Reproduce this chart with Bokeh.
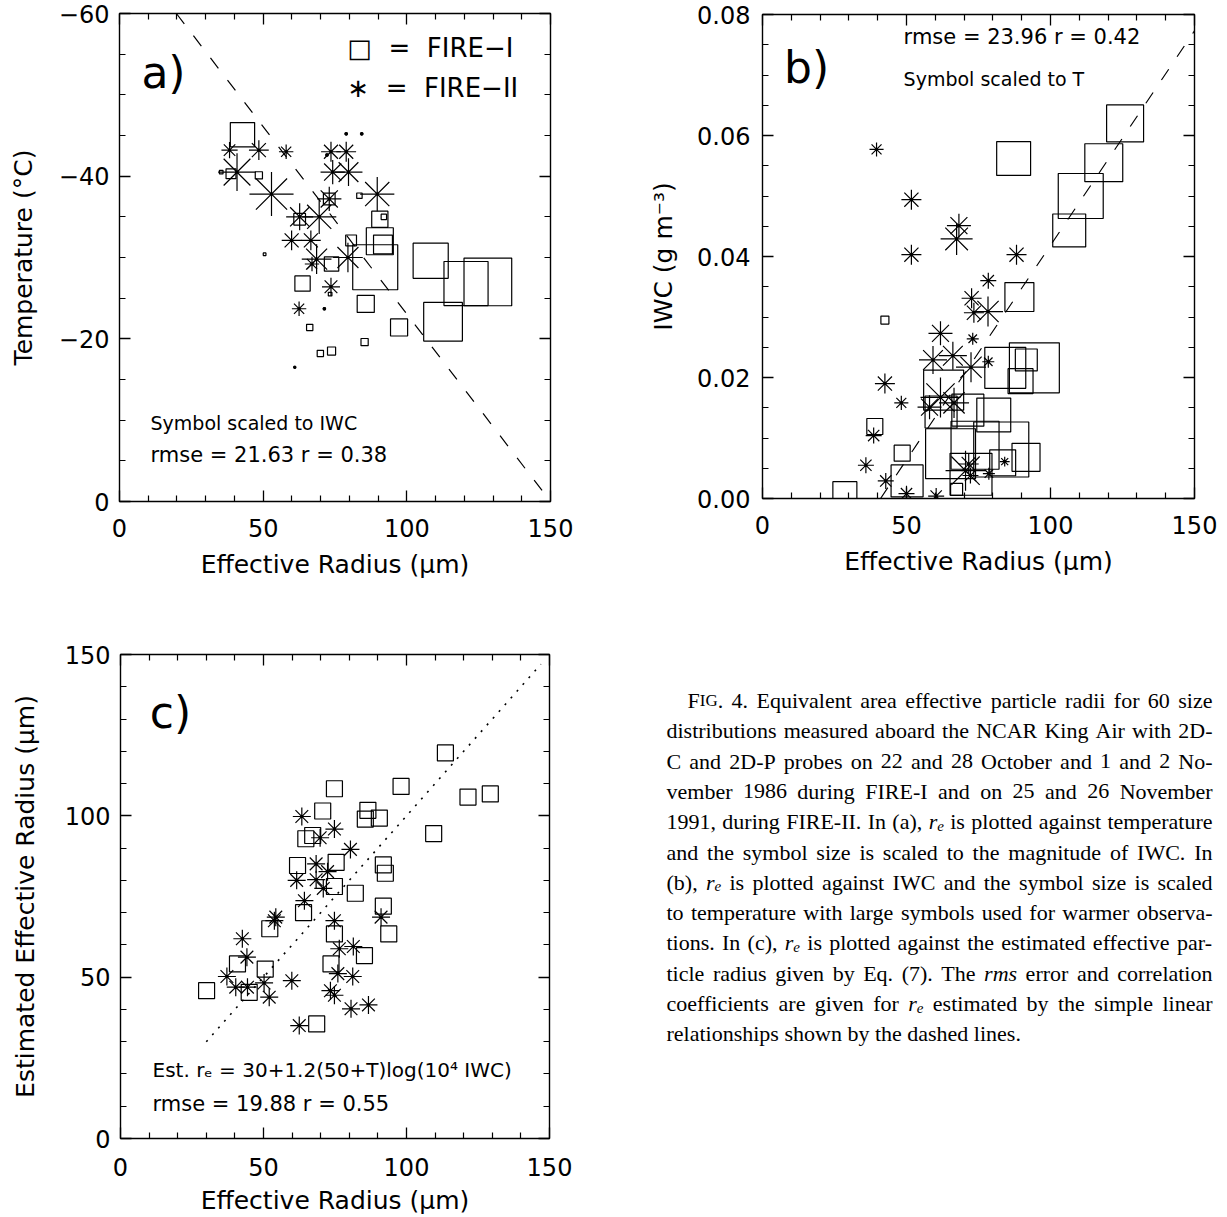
import numpy as np
from bokeh.plotting import figure
from bokeh.layouts import column, row
from bokeh.models import Range1d, LinearAxis, FixedTicker, Label, NumeralTickFormatter
from bokeh.embed import file_html
from bokeh.resources import INLINE
from bokeh.core.properties import value

SANS = "DejaVu Sans"
SERIF = "Liberation Serif"

# ---------------- data ----------------
# (a) effective radius (um) against temperature (C); symbol size follows IWC (g m-3)
a1_re = [42.8, 38.8, 48.5, 73.0, 62.7, 50.5, 63.7, 73.8, 80.6, 73.3, 66.2, 85.3, 69.9, 73.8,
         83.5, 35.4, 90.6, 92.0, 90.6, 91.7, 89.0, 85.7, 97.3, 108.3, 112.6, 120.6, 128.2]
a1_t = [-45.1, -40.3, -40.1, -37.2, -34.7, -30.4, -26.8, -29.2, -32.1, -25.5, -21.4, -19.6, -18.2, -18.5,
        -37.6, -40.5, -34.7, -35.0, -32.0, -31.6, -28.8, -24.3, -21.4, -29.6, -22.1, -26.8, -27.0]
a1_iwc = [0.027, 0.011, 0.008, 0.013, 0.013, 0.003, 0.017, 0.016, 0.012, 0.004, 0.007, 0.008, 0.007, 0.009,
          0.006, 0.004, 0.018, 0.006, 0.030, 0.021, 0.050, 0.019, 0.019, 0.039, 0.043, 0.049, 0.053]

a2_re = [38.3, 48.5, 58.0, 40.9, 52.9, 62.7, 69.5, 59.9, 66.6, 68.6, 67.0, 79.5, 73.6, 62.5, 71.3,
         73.6, 78.9, 74.2, 79.7, 78.9, 84.3, 73.0, 89.7, 61.0, 72.2]
a2_t = [-43.2, -43.2, -43.0, -40.5, -37.8, -35.0, -35.0, -32.1, -32.1, -29.8, -29.2, -30.0, -26.4, -23.7, -23.7,
        -43.0, -43.0, -40.5, -40.5, -45.2, -45.2, -37.2, -37.8, -16.5, -42.6]
a2_iwc = [0.018, 0.022, 0.016, 0.042, 0.049, 0.030, 0.038, 0.022, 0.022, 0.033, 0.016, 0.033, 0.020, 0.016, 0.004,
          0.022, 0.022, 0.027, 0.031, 0.004, 0.004, 0.027, 0.038, 0.003, 0.004]

# (b) effective radius (um) against IWC (g m-3); symbol size follows temperature (C)
b1_re = [125.9, 118.5, 110.5, 106.5, 87.2, 89.2, 42.5, 84.3, 94.4, 89.6, 91.6, 62.9, 62.0, 71.3,
         80.3, 39.0, 65.3, 48.5, 50.2, 28.6, 82.9, 91.5, 83.4, 72.4, 67.4, 73.8]
b1_iwc = [0.0620, 0.0555, 0.0500, 0.0443, 0.0562, 0.0333, 0.0295, 0.0216, 0.0216, 0.0194, 0.0229, 0.0179, 0.0143, 0.0146,
          0.0138, 0.0119, 0.0074, 0.0075, 0.0029, 0.0008, 0.0081, 0.0068, 0.0059, 0.0040, 0.0015, 0.0088]
b1_t = [-27.9, -27.3, -22.9, -30.4, -29.8, -32.9, -46.0, -25.4, -19.8, -35.4, -37.3, -26.0, -31.0, -31.0,
        -29.8, -41.0, -19.8, -41.0, -31.0, -36.0, -16.6, -33.5, -34.8, -24.8, -43.5, -21.0]

b2_re = [39.6, 51.7, 68.2, 67.4, 51.7, 72.6, 73.4, 78.4, 78.3, 88.2, 61.8, 73.0, 66.1, 59.2, 78.4, 72.4,
         42.5, 48.2, 61.8, 58.0, 66.5, 38.6, 35.9, 42.8, 50.0, 60.3, 71.6, 70.5, 72.2, 78.6, 84.1]
b2_iwc = [0.0577, 0.0494, 0.0451, 0.0429, 0.0403, 0.0331, 0.0307, 0.0360, 0.0309, 0.0403, 0.0273, 0.0264, 0.0236,
          0.0229, 0.0226, 0.0217, 0.0190, 0.0158, 0.0167, 0.0151, 0.0158, 0.0104, 0.0055, 0.0029, 0.0008, 0.0004,
          0.0057, 0.0046, 0.0038, 0.0041, 0.0061]
b2_t = [-42.2, -38.5, -36.0, -31.0, -38.5, -38.5, -38.5, -41.0, -32.2, -38.5, -36.0, -43.5, -33.5, -33.5, -43.5, -32.2,
        -38.5, -42.2, -26.0, -36.0, -32.2, -41.0, -41.0, -41.0, -41.0, -41.0, -38.5, -26.0, -41.0, -43.5, -44.8]

# (c) effective radius (um) against the estimated effective radius (um)
c1_re = [74.8, 98.1, 70.7, 86.5, 85.6, 90.5, 67.2, 64.8, 61.9, 75.4, 91.9, 92.6, 74.8, 82.1, 64.0,
         91.9, 52.2, 74.8, 93.8, 40.9, 50.6, 85.3, 73.6, 30.1, 45.0, 68.6, 113.6, 121.5, 129.3, 109.5]
c1_est = [108.4, 109.1, 101.5, 101.7, 99.0, 99.3, 93.9, 92.9, 84.6, 85.6, 84.8, 82.2, 78.1, 76.0, 70.0,
          72.0, 65.0, 63.4, 63.4, 54.1, 52.5, 56.7, 54.1, 45.8, 45.3, 35.5, 119.5, 105.8, 106.8, 94.5]
c2_re = [63.4, 74.8, 69.8, 80.4, 68.4, 72.4, 61.6, 68.4, 70.9, 64.3, 54.3, 53.8, 74.8, 91.1, 42.6, 44.2,
         76.5, 81.4, 37.2, 40.3, 44.4, 50.2, 52.0, 59.9, 76.0, 81.2, 73.4, 74.8, 80.6, 86.7, 62.5]
c2_est = [99.8, 95.9, 93.2, 89.6, 85.1, 82.7, 80.0, 80.2, 77.5, 73.7, 68.6, 67.5, 67.5, 68.6, 61.9, 56.2,
          58.8, 59.5, 50.2, 46.9, 46.9, 48.2, 43.8, 48.9, 51.1, 50.2, 45.8, 44.4, 40.2, 41.4, 35.0]

# linear relationships drawn as dashed / dotted lines
A_FIT_RE0, A_FIT_SLOPE = 150.0, 2.17      # re = 150 + 2.17 T
B_FIT_RE0, B_FIT_SLOPE = 41.0, 1410.0     # re = 41 + 1410 IWC
C_ONE_TO_ONE = [30.0, 147.0]

# symbol scaling
A_PX_PER_IWC = 900.0                      # marker size (px) per g m-3
B_PX_PER_DEG, B_T_ZERO = 1.6, -51.0       # marker size (px) = 1.6 (T + 51)
C_SIZE = 16

# ticks
X_TICKS = [0, 50, 100, 150]
X_MINOR = [v for v in range(0, 151, 10) if v % 50]
A_TICKS = [-60, -40, -20, 0]
A_LABELS = {-60: "\u221260", -40: "\u221240", -20: "\u221220", 0: "0"}
A_MINOR = [v for v in range(-60, 1, 5) if v % 20]
B_TICKS = [0.0, 0.02, 0.04, 0.06, 0.08]
B_MINOR = [round(0.005 * i, 3) for i in range(17) if i % 4]
C_TICKS = [0, 50, 100, 150]
C_MINOR = [v for v in range(0, 151, 10) if v % 50]

CAPTION = [
    "^FIG. 4. Equivalent area effective particle radii for 60 size",
    "distributions measured aboard the NCAR King Air with 2D-",
    "C and 2D-P probes on 22 and 28 October and 1 and 2 No-",
    "vember 1986 during FIRE-I and on 25 and 26 November",
    "1991, during FIRE-II. In (a), r_e is plotted against temperature",
    "and the symbol size is scaled to the magnitude of IWC. In",
    "(b), r_e is plotted against IWC and the symbol size is scaled",
    "to temperature with large symbols used for warmer observa-",
    "tions. In (c), r_e is plotted against the estimated effective par-",
    "ticle radius given by Eq. (7). The ~rms error and correlation",
    "coefficients are given for r_e estimated by the simple linear",
    "relationships shown by the dashed lines.",
]

NB = "\u00a0"


# ---------------- helpers ----------------
def make_panel(width, height, left, right, top, bottom, xr, yr):
    p = figure(width=width, height=height, x_range=xr, y_range=yr,
               output_backend="svg", toolbar_location=None,
               x_axis_location=None, y_axis_location=None,
               min_border_left=left, min_border_right=right,
               min_border_top=top, min_border_bottom=bottom)
    p.frame_align = False
    p.xgrid.visible = False
    p.ygrid.visible = False
    p.outline_line_color = "black"
    p.outline_line_width = 1.4
    p.background_fill_color = "white"
    p.border_fill_color = "white"
    return p


def add_axes(p, xticks, xminor, yticks, yminor, xtitle, ytitle,
             ylabels=None, yformat=None, xstand=17, xtitle_stand=10,
             ystand=10, ytitle_stand=18):
    for loc in ("below", "left", "above", "right"):
        horiz = loc in ("below", "above")
        ax = LinearAxis()
        ax.ticker = FixedTicker(ticks=xticks if horiz else yticks,
                                minor_ticks=xminor if horiz else yminor)
        ax.axis_line_color = None
        ax.major_tick_in, ax.major_tick_out = 11, 0
        ax.minor_tick_in, ax.minor_tick_out = 6, 0
        ax.major_tick_line_color = "black"
        ax.minor_tick_line_color = "black"
        ax.major_tick_line_width = 1.3
        ax.minor_tick_line_width = 1.2
        if loc in ("below", "left"):
            ax.major_label_text_font = SANS
            ax.major_label_text_font_size = "24px"
            ax.major_label_text_color = "black"
            ax.axis_label_text_font = SANS
            ax.axis_label_text_font_size = "25px"
            ax.axis_label_text_font_style = "normal"
            ax.axis_label_text_color = "black"
            if horiz:
                ax.major_label_standoff = xstand
                ax.axis_label = xtitle
                ax.axis_label_standoff = xtitle_stand
            else:
                ax.major_label_standoff = ystand
                ax.axis_label = ytitle
                ax.axis_label_standoff = ytitle_stand
                if ylabels:
                    ax.major_label_overrides = ylabels
                if yformat:
                    ax.formatter = NumeralTickFormatter(format=yformat)
        else:
            # tick marks only on the opposite sides
            ax.major_label_text_color = None
            ax.major_label_text_font_size = "1px"
            ax.major_label_standoff = 0
        p.add_layout(ax, loc)


def squares(p, x, y, size):
    p.scatter(x=x, y=y, size=size, marker="square", fill_color=None,
              line_color="black", line_width=1.2)


def stars(p, x, y, size):
    p.scatter(x=x, y=y, size=size, marker="cross", line_color="black", line_width=1.2)
    p.scatter(x=x, y=y, size=size, marker="x", line_color="black", line_width=1.2)
    p.scatter(x=x, y=y, size=3.5, marker="circle", fill_color="black", line_color=None)


def note(p, x, y, text, size, align="left"):
    p.add_layout(Label(x=x, y=y, text=text, text_font=SANS, text_font_size=size,
                       text_align=align, text_baseline="middle", text_color="black"))


# ---------------- panel (a) ----------------
pa = make_panel(614, 600, 119, 64, 13, 99, Range1d(0, 150), Range1d(0, -60))
add_axes(pa, X_TICKS, X_MINOR, A_TICKS, A_MINOR,
         "Effective Radius (\u03bcm)", "Temperature (\u00b0C)", ylabels=A_LABELS)
t_line = np.array([-60.0, 0.0])
pa.line(x=A_FIT_RE0 + A_FIT_SLOPE * t_line, y=t_line, line_color="black",
        line_width=1.2, line_dash="13 15")
squares(pa, a1_re, a1_t, np.array(a1_iwc) * A_PX_PER_IWC)
stars(pa, a2_re, a2_t, np.array(a2_iwc) * A_PX_PER_IWC)
note(pa, 15.3, -52.8, "a)", "44px", align="center")
note(pa, 79.3, -55.8, f"\u25a1{NB}{NB}={NB}{NB}FIRE\u2212I", "26px")
note(pa, 79.3, -50.8, f"\u2217{NB}{NB}={NB}{NB}FIRE\u2212II", "26px")
note(pa, 10.8, -9.7, "Symbol scaled to IWC", "19px")
note(pa, 10.8, -5.7, "rmse = 21.63 r = 0.38", "21px")

# ---------------- panel (b) ----------------
pb = make_panel(613, 600, 148, 33, 14, 102, Range1d(0, 150), Range1d(0, 0.08))
add_axes(pb, X_TICKS, X_MINOR, B_TICKS, B_MINOR,
         "Effective Radius (\u03bcm)", "IWC (g m\u207b\u00b3)", yformat="0.00",
         ystand=12, ytitle_stand=16)
iwc_line = np.array([0.0, (150.0 - B_FIT_RE0) / B_FIT_SLOPE])
pb.line(x=B_FIT_RE0 + B_FIT_SLOPE * iwc_line, y=iwc_line, line_color="black",
        line_width=1.2, line_dash="13 15")
squares(pb, b1_re, b1_iwc, B_PX_PER_DEG * (np.array(b1_t) - B_T_ZERO))
stars(pb, b2_re, b2_iwc, B_PX_PER_DEG * (np.array(b2_t) - B_T_ZERO))
note(pb, 15.3, 0.0712, "b)", "44px", align="center")
note(pb, 49.0, 0.0762, "rmse = 23.96 r = 0.42", "21px")
note(pb, 49.0, 0.0694, "Symbol scaled to T", "19px")

# ---------------- panel (c) ----------------
pc = make_panel(614, 617, 120, 65, 54, 79, Range1d(0, 150), Range1d(0, 150))
add_axes(pc, X_TICKS, X_MINOR, C_TICKS, C_MINOR,
         "Effective Radius (\u03bcm)", "Estimated Effective Radius (\u03bcm)",
         xstand=19, xtitle_stand=7, ytitle_stand=22)
pc.line(x=C_ONE_TO_ONE, y=C_ONE_TO_ONE, line_color="black", line_width=1.6, line_dash="2 7")
squares(pc, c1_re, c1_est, C_SIZE)
stars(pc, c2_re, c2_est, C_SIZE + 2)
note(pc, 17.5, 132.0, "c)", "44px", align="center")
note(pc, 11.2, 21.1, "Est. r\u2091 = 30+1.2(50+T)log(10\u2074 IWC)", "20px")
note(pc, 11.2, 10.8, "rmse = 19.88 r = 0.55", "21px")

# ---------------- caption ----------------
W_ROMAN = {' ': 250, '(': 333, ')': 333, ',': 250, '-': 333, '.': 250, ':': 278, ';': 278,
           'A': 722, 'B': 667, 'C': 667, 'D': 722, 'E': 611, 'F': 556, 'G': 722, 'H': 722, 'I': 333,
           'J': 389, 'K': 722, 'L': 611, 'M': 889, 'N': 722, 'O': 722, 'P': 556, 'Q': 722, 'R': 667,
           'S': 556, 'T': 611, 'U': 722, 'V': 722, 'W': 944, 'X': 722, 'Y': 722, 'Z': 611,
           'a': 444, 'b': 500, 'c': 444, 'd': 500, 'e': 444, 'f': 333, 'g': 500, 'h': 500, 'i': 278,
           'j': 278, 'k': 500, 'l': 278, 'm': 778, 'n': 500, 'o': 500, 'p': 500, 'q': 500, 'r': 333,
           's': 389, 't': 278, 'u': 500, 'v': 500, 'w': 722, 'x': 500, 'y': 500, 'z': 444}
W_ITALIC = {'r': 389, 'm': 722, 's': 389, 'e': 444}
CAP_STYLE = {"n": (22, "normal", 0), "i": (22, "italic", 0),
             "sc": (17, "normal", 0), "sub": (15, "italic", 4)}
CAP_LEFT, CAP_RIGHT, CAP_INDENT = 666, 1212, 21
CAP_BASE, CAP_PITCH = 700, 30.3


def runs_of(word):
    if word.startswith("^"):
        w = word[1:]
        return [(w[0], "n"), (w[1:-1], "sc"), (w[-1], "n")]
    if word.startswith("r_e"):
        rest = word[3:]
        return [("r", "i"), ("e", "sub")] + ([(rest, "n")] if rest else [])
    if word.startswith("~"):
        return [(word[1:], "i")]
    return [(word, "n")]


def run_width(text, kind):
    size = CAP_STYLE[kind][0]
    table = W_ITALIC if kind in ("i", "sub") else W_ROMAN
    return sum(table.get(ch, W_ROMAN.get(ch, 500)) for ch in text) * size / 1000.0


pd = figure(width=613, height=617, x_range=Range1d(614, 1227), y_range=Range1d(1217, 600),
            output_backend="svg", toolbar_location=None,
            x_axis_location=None, y_axis_location=None, min_border=0)
pd.frame_align = False
pd.xgrid.visible = False
pd.ygrid.visible = False
pd.outline_line_color = None

pieces = {k: {"x": [], "y": [], "text": []} for k in CAP_STYLE}
for i, line in enumerate(CAPTION):
    words = [runs_of(w) for w in line.split()]
    widths = [sum(run_width(t, k) for t, k in w) for w in words]
    left = CAP_LEFT + (CAP_INDENT if i == 0 else 0)
    if i == len(CAPTION) - 1:
        gap = 0.25 * 22
    else:
        gap = (CAP_RIGHT - left - sum(widths)) / (len(words) - 1)
    x = left
    base = CAP_BASE + i * CAP_PITCH
    for w, wd in zip(words, widths):
        xx = x
        for t, k in w:
            pieces[k]["x"].append(xx)
            pieces[k]["y"].append(base + CAP_STYLE[k][2])
            pieces[k]["text"].append(t)
            xx += run_width(t, k)
        x += wd + gap

for k, (size, style, _) in CAP_STYLE.items():
    d = pieces[k]
    if not d["text"]:
        continue
    pd.text(x=d["x"], y=d["y"], text=d["text"], text_font=value(SERIF),
            text_font_size=value(f"{size}px"), text_font_style=value(style),
            text_align=value("left"), text_baseline=value("alphabetic"),
            text_color="black")

layout = column(row(pa, pb), row(pc, pd))
open("out.html", "w").write(file_html(layout, INLINE))
